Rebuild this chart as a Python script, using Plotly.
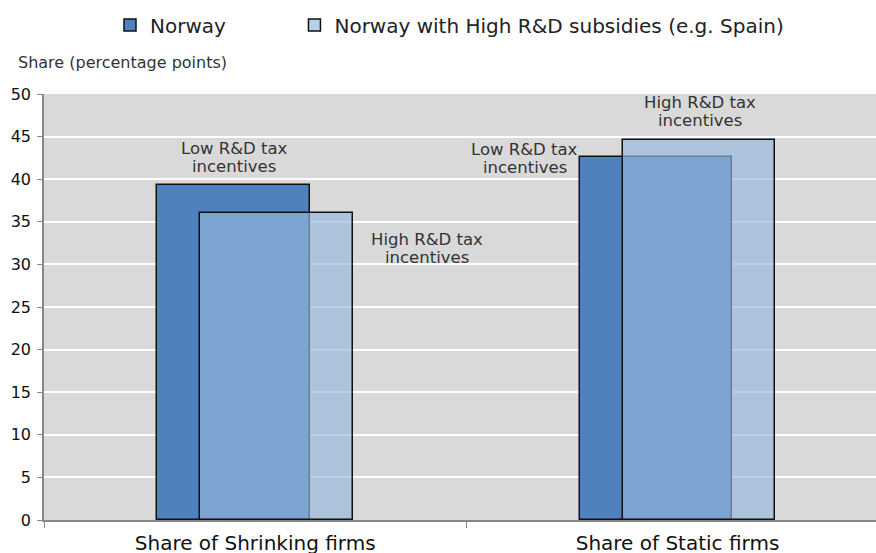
import plotly.graph_objects as go

categories = ["Share of Shrinking firms", "Share of Static firms"]
norway = [39.3, 42.6]
norway_high = [36.0, 44.6]
series_names = ["Norway", "Norway with High R&D subsidies (e.g. Spain)"]
y_ticks = [0, 5, 10, 15, 20, 25, 30, 35, 40, 45, 50]

FONT = "DejaVu Sans, Liberation Sans, Arial, sans-serif"
BW = 0.361
OFF = 0.051

W, H = 876, 553

fig = go.Figure()
fig.add_trace(go.Bar(
    x=categories, y=norway, name=series_names[0] + "\u00a0" * 10,
    width=BW, offset=-OFF - BW / 2,
    marker=dict(color="#4F81BD", line=dict(color="#111111", width=1.5)),
))
fig.add_trace(go.Bar(
    x=categories, y=norway_high, name=series_names[1],
    width=BW, offset=OFF - BW / 2,
    marker=dict(color="rgba(151,182,220,0.66)", line=dict(color="#111111", width=1.5)),
))

ann_font = dict(family=FONT, size=16.5, color="#333333")
labels = [
    (-0.049, 42.6, "Low R&D tax", "incentives"),
    (0.407, 31.9, "High R&D tax", "incentives"),
    (0.638, 42.4, "Low R&D tax", "incentives"),
    (1.053, 47.9, "High R&D tax", "incentives"),
]
for x, y, l1, l2 in labels:
    fig.add_annotation(x=x, y=y, xref="x", yref="y", text=l1, showarrow=False,
                       font=ann_font, yshift=9)
    fig.add_annotation(x=x, y=y, xref="x", yref="y", text=l2, showarrow=False,
                       font=ann_font, yshift=-9)

fig.add_annotation(xref="x domain", yref="y domain",
                   x=(16 - 44) / 832, y=(520 - 63) / 426,
                   text="Share (percentage points)", showarrow=False,
                   font=dict(family=FONT, size=16, color="#333333"),
                   xanchor="left", yanchor="middle")

fig.update_layout(
    width=W, height=H,
    margin=dict(l=44, r=0, t=94, b=33, autoexpand=False),
    barmode="overlay",
    paper_bgcolor="white",
    plot_bgcolor="#D9D9D9",
    font=dict(family=FONT, color="#222222"),
    showlegend=True,
    legend=dict(orientation="h", xref="container", yref="container",
                x=110 / W, y=1 - 25 / H,
                xanchor="left", yanchor="middle", font=dict(size=20, family=FONT, color="#222222"),
                itemwidth=30, bgcolor="rgba(0,0,0,0)"),
    bargap=0,
)
fig.update_xaxes(
    type="category", range=[-0.5, 1.47], showgrid=False, automargin=False,
    tickson="boundaries", ticks="outside", ticklen=6, tickcolor="#888888",
    showline=True, linecolor="#888888", linewidth=2, ticklabelstandoff=4,
    tickfont=dict(family=FONT, size=20, color="#111111"),
)
fig.update_yaxes(
    range=[0, 50], tickvals=y_ticks, showgrid=True, gridcolor="white", gridwidth=2,
    ticks="outside", ticklen=5, tickcolor="#888888", automargin=False,
    showline=True, linecolor="#888888", linewidth=1.5, zeroline=False, ticklabelstandoff=3,
    tickfont=dict(family=FONT, size=16, color="#111111"),
)

fig.write_html(
    "out.html",
    config={"displayModeBar": False},
    post_script="document.body.style.margin='0';document.body.style.overflow='hidden';",
)
